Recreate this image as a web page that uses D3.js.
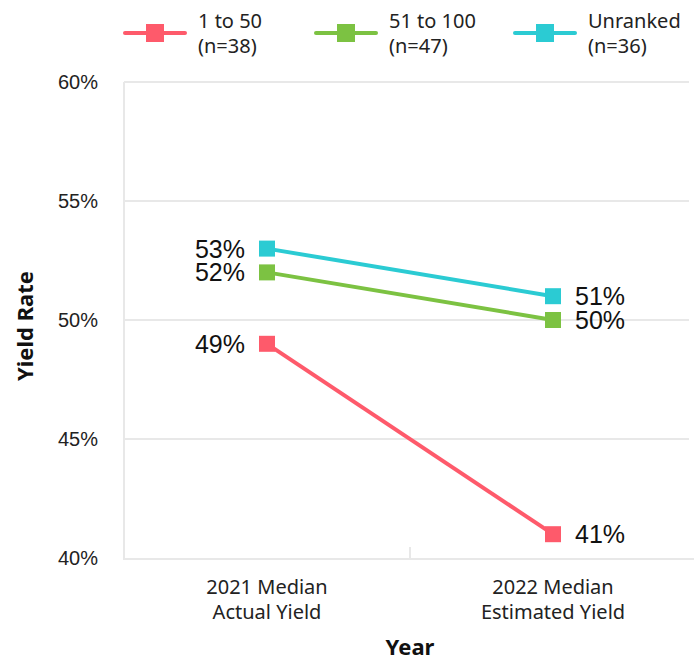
<!DOCTYPE html>
<html>
<head>
<meta charset="utf-8">
<script src="https://cdn.jsdelivr.net/npm/d3@7/dist/d3.min.js"></script>
<style>
  html, body { margin: 0; padding: 0; background: #fff; }
  svg { display: block; }
</style>
</head>
<body>
<svg id="chart" width="694" height="660"></svg>
<script>
// Yield rate by ranking group, 2021 actual vs 2022 estimated
const years = ["2021 Median|Actual Yield", "2022 Median|Estimated Yield"];
const groupNames = ["1 to 50|(n=38)", "51 to 100|(n=47)", "Unranked|(n=36)"];
const groupColors = ["#fe5a6b", "#7cc242", "#2bcbd3"];
const rankTop50 = [49, 41];
const rank51to100 = [52, 50];
const unranked = [53, 51];
const yTicks = [40, 45, 50, 55, 60];

const series = [rankTop50, rank51to100, unranked].map((vals, i) => ({
  name: groupNames[i], color: groupColors[i], values: vals
}));

const svg = d3.select("#chart");
const uiFont = "'Noto Sans', 'Open Sans', sans-serif";
const numFont = "'Liberation Sans', Arial, sans-serif";

const margin = { left: 124, right: -2, top: 82, bottom: 102 };
const W = 694, H = 660;
const x = d3.scaleBand().domain(years).range([margin.left, W - margin.right]);
const y = d3.scaleLinear().domain([40, 60]).range([H - margin.bottom, margin.top]);

// gridlines
svg.append("g").selectAll("line").data(yTicks.slice(1)).join("line")
  .attr("x1", margin.left).attr("x2", 689)
  .attr("y1", d => y(d)).attr("y2", d => y(d))
  .attr("stroke", "#e8e8e8").attr("stroke-width", 2);

// left and bottom frame
svg.append("line").attr("x1", margin.left).attr("x2", margin.left)
  .attr("y1", y(60)).attr("y2", y(40) + 1)
  .attr("stroke", "#e8e8e8").attr("stroke-width", 2);
svg.append("line").attr("x1", margin.left - 1).attr("x2", W)
  .attr("y1", y(40) + 1).attr("y2", y(40) + 1)
  .attr("stroke", "#e8e8e8").attr("stroke-width", 2);
// band separator tick
svg.append("line").attr("x1", x(years[1])).attr("x2", x(years[1]))
  .attr("y1", y(40) - 11).attr("y2", y(40))
  .attr("stroke", "#e8e8e8").attr("stroke-width", 2);

// y tick labels
svg.append("g").selectAll("text").data(yTicks).join("text")
  .attr("x", 98).attr("y", d => y(d)).attr("dy", "0.35em")
  .attr("text-anchor", "end")
  .attr("font-family", numFont).attr("font-size", 20).attr("fill", "#222")
  .text(d => d + "%");

// x category labels
const xl = svg.append("g").selectAll("text").data(years).join("text")
  .attr("x", d => x(d) + x.bandwidth() / 2).attr("y", 594)
  .attr("text-anchor", "middle")
  .attr("font-family", uiFont).attr("font-size", 20).attr("fill", "#222");
xl.selectAll("tspan").data(d => d.split("|").map(t => ({ t, k: d }))).join("tspan")
  .attr("x", d => x(d.k) + x.bandwidth() / 2)
  .attr("dy", (d, i) => i === 0 ? 0 : 25)
  .text(d => d.t);

// axis titles
svg.append("text").attr("x", 410).attr("y", 655).attr("text-anchor", "middle")
  .attr("font-family", uiFont).attr("font-weight", 700).attr("font-size", 22)
  .attr("fill", "#111").text("Year");
svg.append("text").attr("transform", "translate(33,326) rotate(-90)")
  .attr("text-anchor", "middle")
  .attr("font-family", uiFont).attr("font-weight", 700).attr("font-size", 22)
  .attr("fill", "#111").text("Yield Rate");

// lines and markers
const cx = i => x(years[i]) + x.bandwidth() / 2;
const line = d3.line().x((d, i) => cx(i)).y(d => y(d));
const g = svg.append("g");
series.forEach(s => {
  g.append("path").datum(s.values).attr("d", line)
    .attr("fill", "none").attr("stroke", s.color).attr("stroke-width", 4);
  g.selectAll(null).data(s.values).join("rect")
    .attr("x", (d, i) => cx(i) - 8).attr("y", d => y(d) - 8)
    .attr("width", 16).attr("height", 16).attr("fill", s.color);
  // value labels
  g.selectAll(null).data(s.values).join("text")
    .attr("x", (d, i) => i === 0 ? cx(i) - 22 : cx(i) + 22)
    .attr("y", d => y(d)).attr("dy", "0.36em")
    .attr("text-anchor", (d, i) => i === 0 ? "end" : "start")
    .attr("font-family", numFont).attr("font-size", 25).attr("fill", "#111")
    .text(d => d + "%");
});

// legend
const legendX = [125, 316, 515];
series.forEach((s, i) => {
  const lg = svg.append("g").attr("transform", `translate(${legendX[i]},33)`);
  lg.append("line").attr("x1", 0).attr("x2", 60).attr("y1", 0).attr("y2", 0)
    .attr("stroke", s.color).attr("stroke-width", 4).attr("stroke-linecap", "round");
  lg.append("rect").attr("x", 21).attr("y", -9).attr("width", 18).attr("height", 18)
    .attr("fill", s.color);
  const t = lg.append("text").attr("font-family", uiFont).attr("font-size", 20)
    .attr("fill", "#222");
  s.name.split("|").forEach((part, j) => {
    t.append("tspan").attr("x", 73).attr("y", j === 0 ? -5 : 20).text(part);
  });
});
</script>
</body>
</html>
